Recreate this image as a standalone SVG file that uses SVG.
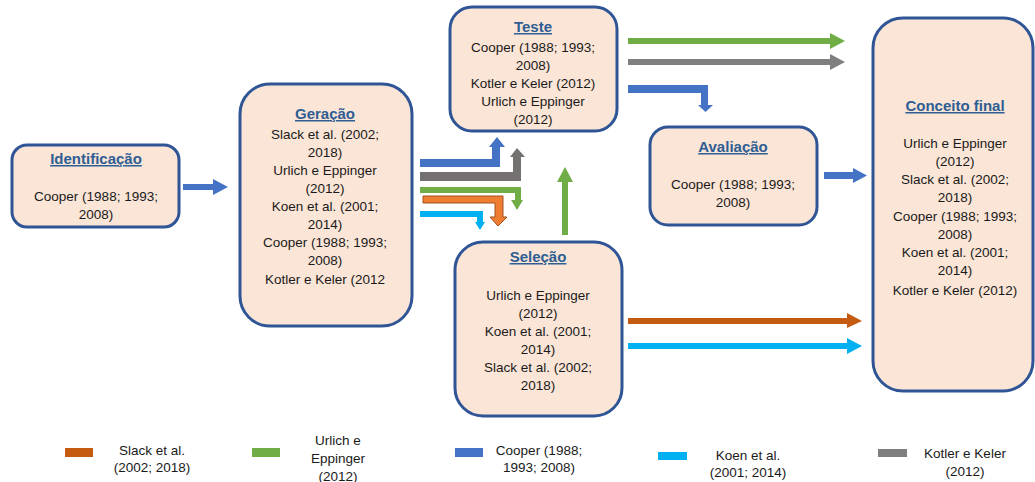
<svg xmlns="http://www.w3.org/2000/svg" width="1035" height="482" viewBox="0 0 1035 482">
  <style>
    .box { fill: #FBE5D6; stroke: #2F5597; stroke-width: 3; }
    .title { font-family: "Liberation Sans", Arial, sans-serif; font-size: 15px; font-weight: bold; fill: #2E5E93; text-decoration: underline; text-anchor: middle; }
    .txt { font-family: "Liberation Sans", Arial, sans-serif; font-size: 13.5px; fill: #1A1A1A; text-anchor: middle; }
    .blue { fill: #4472C4; }
    .green { fill: #70AD47; }
    .gray { fill: #7F7F7F; }
    .darkgray { fill: #767171; }
    .orange { fill: #C55A11; }
    .orange2 { fill: #ED7D31; stroke: #A5501E; stroke-width: 1; }
    .cyan { fill: #00B0F0; }
  </style>
  <rect width="1035" height="482" fill="#FFFFFF"/>

  <!-- Nodes -->
  <g id="identificacao">
    <rect class="box" x="12" y="145" width="167" height="82" rx="15"/>
    <text class="title" x="96" y="164">Identificação</text>
    <text class="txt" x="96" y="201">Cooper (1988; 1993;</text>
    <text class="txt" x="96" y="219">2008)</text>
  </g>

  <g id="geracao">
    <rect class="box" x="240" y="84" width="172" height="242" rx="30"/>
    <text class="title" x="325" y="119">Geração</text>
    <text class="txt" x="325" y="139">Slack et al. (2002;</text>
    <text class="txt" x="325" y="157">2018)</text>
    <text class="txt" x="325" y="175">Urlich e Eppinger</text>
    <text class="txt" x="325" y="193">(2012)</text>
    <text class="txt" x="325" y="211">Koen et al. (2001;</text>
    <text class="txt" x="325" y="229">2014)</text>
    <text class="txt" x="325" y="247">Cooper (1988; 1993;</text>
    <text class="txt" x="325" y="265">2008)</text>
    <text class="txt" x="325" y="284">Kotler e Keler (2012</text>
  </g>

  <g id="teste">
    <rect class="box" x="450" y="7" width="167" height="124" rx="22"/>
    <text class="title" x="533" y="32">Teste</text>
    <text class="txt" x="533" y="52">Cooper (1988; 1993;</text>
    <text class="txt" x="533" y="70">2008)</text>
    <text class="txt" x="533" y="88">Kotler e Keler (2012)</text>
    <text class="txt" x="533" y="106">Urlich e Eppinger</text>
    <text class="txt" x="533" y="124">(2012)</text>
  </g>

  <g id="avaliacao">
    <rect class="box" x="650" y="127" width="167" height="98" rx="18"/>
    <text class="title" x="733" y="152">Avaliação</text>
    <text class="txt" x="733" y="189">Cooper (1988; 1993;</text>
    <text class="txt" x="733" y="207">2008)</text>
  </g>

  <g id="selecao">
    <rect class="box" x="455" y="242" width="167" height="174" rx="28"/>
    <text class="title" x="538" y="262">Seleção</text>
    <text class="txt" x="538" y="300">Urlich e Eppinger</text>
    <text class="txt" x="538" y="318">(2012)</text>
    <text class="txt" x="538" y="336">Koen et al. (2001;</text>
    <text class="txt" x="538" y="354">2014)</text>
    <text class="txt" x="538" y="372">Slack et al. (2002;</text>
    <text class="txt" x="538" y="390">2018)</text>
  </g>

  <g id="conceito-final">
    <rect class="box" x="873" y="18" width="160" height="373" rx="30"/>
    <text class="title" x="955" y="111">Conceito final</text>
    <text class="txt" x="955" y="148">Urlich e Eppinger</text>
    <text class="txt" x="955" y="166">(2012)</text>
    <text class="txt" x="955" y="184">Slack et al. (2002;</text>
    <text class="txt" x="955" y="202">2018)</text>
    <text class="txt" x="955" y="221">Cooper (1988; 1993;</text>
    <text class="txt" x="955" y="239">2008)</text>
    <text class="txt" x="955" y="257">Koen et al. (2001;</text>
    <text class="txt" x="955" y="275">2014)</text>
    <text class="txt" x="955" y="295">Kotler e Keler (2012)</text>
  </g>

  <!-- Connectors -->
  <g id="connectors">
    <!-- Identificação to Geração -->
    <polygon class="blue" points="183,184 213,184 213,179 228,187 213,195 213,190 183,190"/>

    <!-- Geração bundle: blue up -->
    <polygon class="blue" points="420,159 492,159 492,147 489,147 497,137 505,147 500,147 500,167 420,167"/>
    <!-- gray up -->
    <polygon class="darkgray" points="420,172 513,172 513,157 510,157 517,148 525,157 521,157 521,181 420,181"/>
    <!-- green down -->
    <polygon class="green" points="420,187 521,187 521,200 523,200 517,210 511,200 515,200 515,193 420,193"/>
    <!-- orange down -->
    <polygon class="orange2" points="423,196 503,196 503,217 507,217 498,226 490,217 495,217 495,203 423,203"/>
    <!-- cyan down -->
    <polygon class="cyan" points="420,211 483,211 483,222 485,222 480,230 475,222 477,222 477,217 420,217"/>

    <!-- Seleção up to Teste -->
    <polygon class="green" points="562,235 562,182 557,182 565,167 573,182 568,182 568,235"/>

    <!-- Teste to Conceito final -->
    <polygon class="green" points="628,38 830,38 830,33 845,41 830,49 830,44 628,44"/>
    <polygon class="gray" points="628,59 830,59 830,54 845,62 830,70 830,65 628,65"/>
    <!-- Teste to Avaliação -->
    <polygon class="blue" points="628,85 708,85 708,105 713,105 705.5,112 698,105 701,105 701,93 628,93"/>

    <!-- Avaliação to Conceito final -->
    <polygon class="blue" points="824,172 853,172 853,168 867,175.5 853,183 853,179 824,179"/>

    <!-- Seleção to Conceito final -->
    <polygon class="orange" points="628,318 847,318 847,313 862,321 847,328 847,324 628,324"/>
    <polygon class="cyan" points="628,343 847,343 847,338 862,346 847,354 847,349 628,349"/>
  </g>

  <!-- Legend -->
  <g id="legend">
    <rect class="orange" x="65" y="448" width="28" height="9"/>
    <text class="txt" x="152" y="455">Slack et al.</text>
    <text class="txt" x="152" y="472">(2002; 2018)</text>

    <rect class="green" x="252" y="448" width="28" height="9"/>
    <text class="txt" x="338" y="445">Urlich e</text>
    <text class="txt" x="338" y="463">Eppinger</text>
    <text class="txt" x="338" y="481">(2012)</text>

    <rect class="blue" x="455" y="448" width="28" height="9"/>
    <text class="txt" x="539" y="455">Cooper (1988;</text>
    <text class="txt" x="539" y="472">1993; 2008)</text>

    <rect class="cyan" x="658" y="452" width="29" height="8"/>
    <text class="txt" x="748" y="460">Koen et al.</text>
    <text class="txt" x="748" y="477">(2001; 2014)</text>

    <rect class="gray" x="878" y="449" width="29" height="8"/>
    <text class="txt" x="965" y="458">Kotler e Keler</text>
    <text class="txt" x="965" y="476">(2012)</text>
  </g>
</svg>
